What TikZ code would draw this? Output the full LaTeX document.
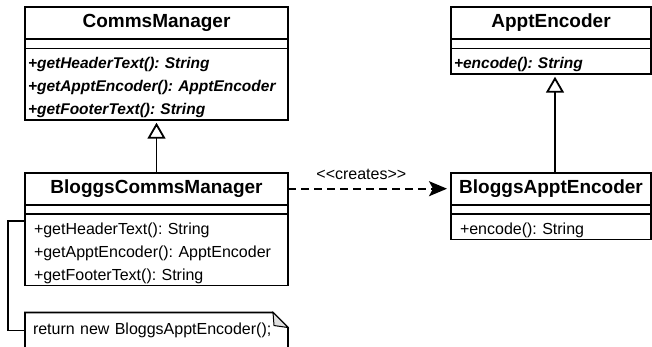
\documentclass[tikz,border=0pt]{standalone}
\usepackage{fontspec}
\setmainfont{Liberation Sans}
\usetikzlibrary{positioning,arrows.meta}
\frenchspacing
\hyphenpenalty=10000

\begin{document}
\begin{tikzpicture}[x=1pt,y=1pt,line width=1.8pt,
  every node/.style={outer sep=0pt},
  cname/.style={draw,minimum width=#1,minimum height=32pt,inner sep=0pt,font=\fontsize{19}{19}\selectfont\bfseries},
  cattr/.style={draw,minimum width=#1,minimum height=9.5pt,inner sep=0pt},
  cmeth/.style={draw,text width=#1-18pt,align=left,inner xsep=9pt,inner ysep=2pt,text height=18pt,font=\fontsize{16}{23}\selectfont},
  abstract/.style={cmeth=#1,text width=#1-6pt,inner xsep=3pt,font=\fontsize{15.5}{23}\selectfont\bfseries\itshape},
  isa/.style={-{Triangle[open,length=16pt,width=18pt]},shorten >=3pt},
  dep/.style={dash pattern=on 8pt off 5pt,-{Stealth[length=18pt,width=15pt,inset=4pt]},shorten >=4pt}]
\useasboundingbox (0,0) rectangle (652,-347);
% abstract classes
\node[cname=263pt,anchor=north] (cm-name) at (156.5,-7) {CommsManager}; \node[cattr=263pt,below=0pt of cm-name] (cm-attr) {}; \node[abstract=263pt,below=0pt of cm-attr] (cm-meth) {+getHeaderText(): String\\+getApptEncoder(): ApptEncoder\\+getFooterText(): String};
\node[cname=200pt,anchor=north] (ae-name) at (551,-7) {ApptEncoder}; \node[cattr=200pt,below=0pt of ae-name] (ae-attr) {}; \node[abstract=200pt,below=0pt of ae-attr] (ae-meth) {+encode(): String};
% concrete classes
\node[cname=263pt,below=53pt of cm-meth] (bcm-name) {BloggsCommsManager}; \node[cattr=263pt,below=0pt of bcm-name] (bcm-attr) {}; \node[cmeth=263pt,below=0pt of bcm-attr] (bcm-meth) {+getHeaderText(): String\\+getApptEncoder(): ApptEncoder\\+getFooterText(): String};
\node[cname=200pt,below=99pt of ae-meth] (bae-name) {BloggsApptEncoder}; \node[cattr=200pt,below=0pt of bae-name] (bae-attr) {}; \node[cmeth=200pt,below=0pt of bae-attr] (bae-meth) {+encode(): String};
% note
\node[below=27pt of bcm-meth,text width=247pt,inner xsep=8pt,inner ysep=0pt,text height=22pt,text depth=14pt,align=left,font=\fontsize{16}{20}\selectfont] (note) {return new BloggsApptEncoder();};
\draw (note.north west) -- ([xshift=-15pt]note.north east) -- ([yshift=-15pt]note.north east) -- (note.south east) -- (note.south west) -- cycle;
\draw[fill=black!12,line width=1pt] ([xshift=-15pt]note.north east) -- ([xshift=-14pt,yshift=-13pt]note.north east) -- ([yshift=-15pt]note.north east) -- cycle;
\draw ([yshift=-7pt]bcm-meth.north west) -- ++(-17pt,0) |- (note.west);
% relations
\draw[isa] (bcm-name.north) -- (cm-meth.south);
\draw[isa] ([xshift=4pt]bae-name.north) -- ([xshift=4pt]ae-meth.south);
\draw[dep] (bcm-name.east) -- node[above=5.5pt,pos=0.45,font=\fontsize{16}{16}\selectfont] {<\kern0pt<creates>\kern0pt>} (bae-name.west);
\end{tikzpicture}
\end{document}
